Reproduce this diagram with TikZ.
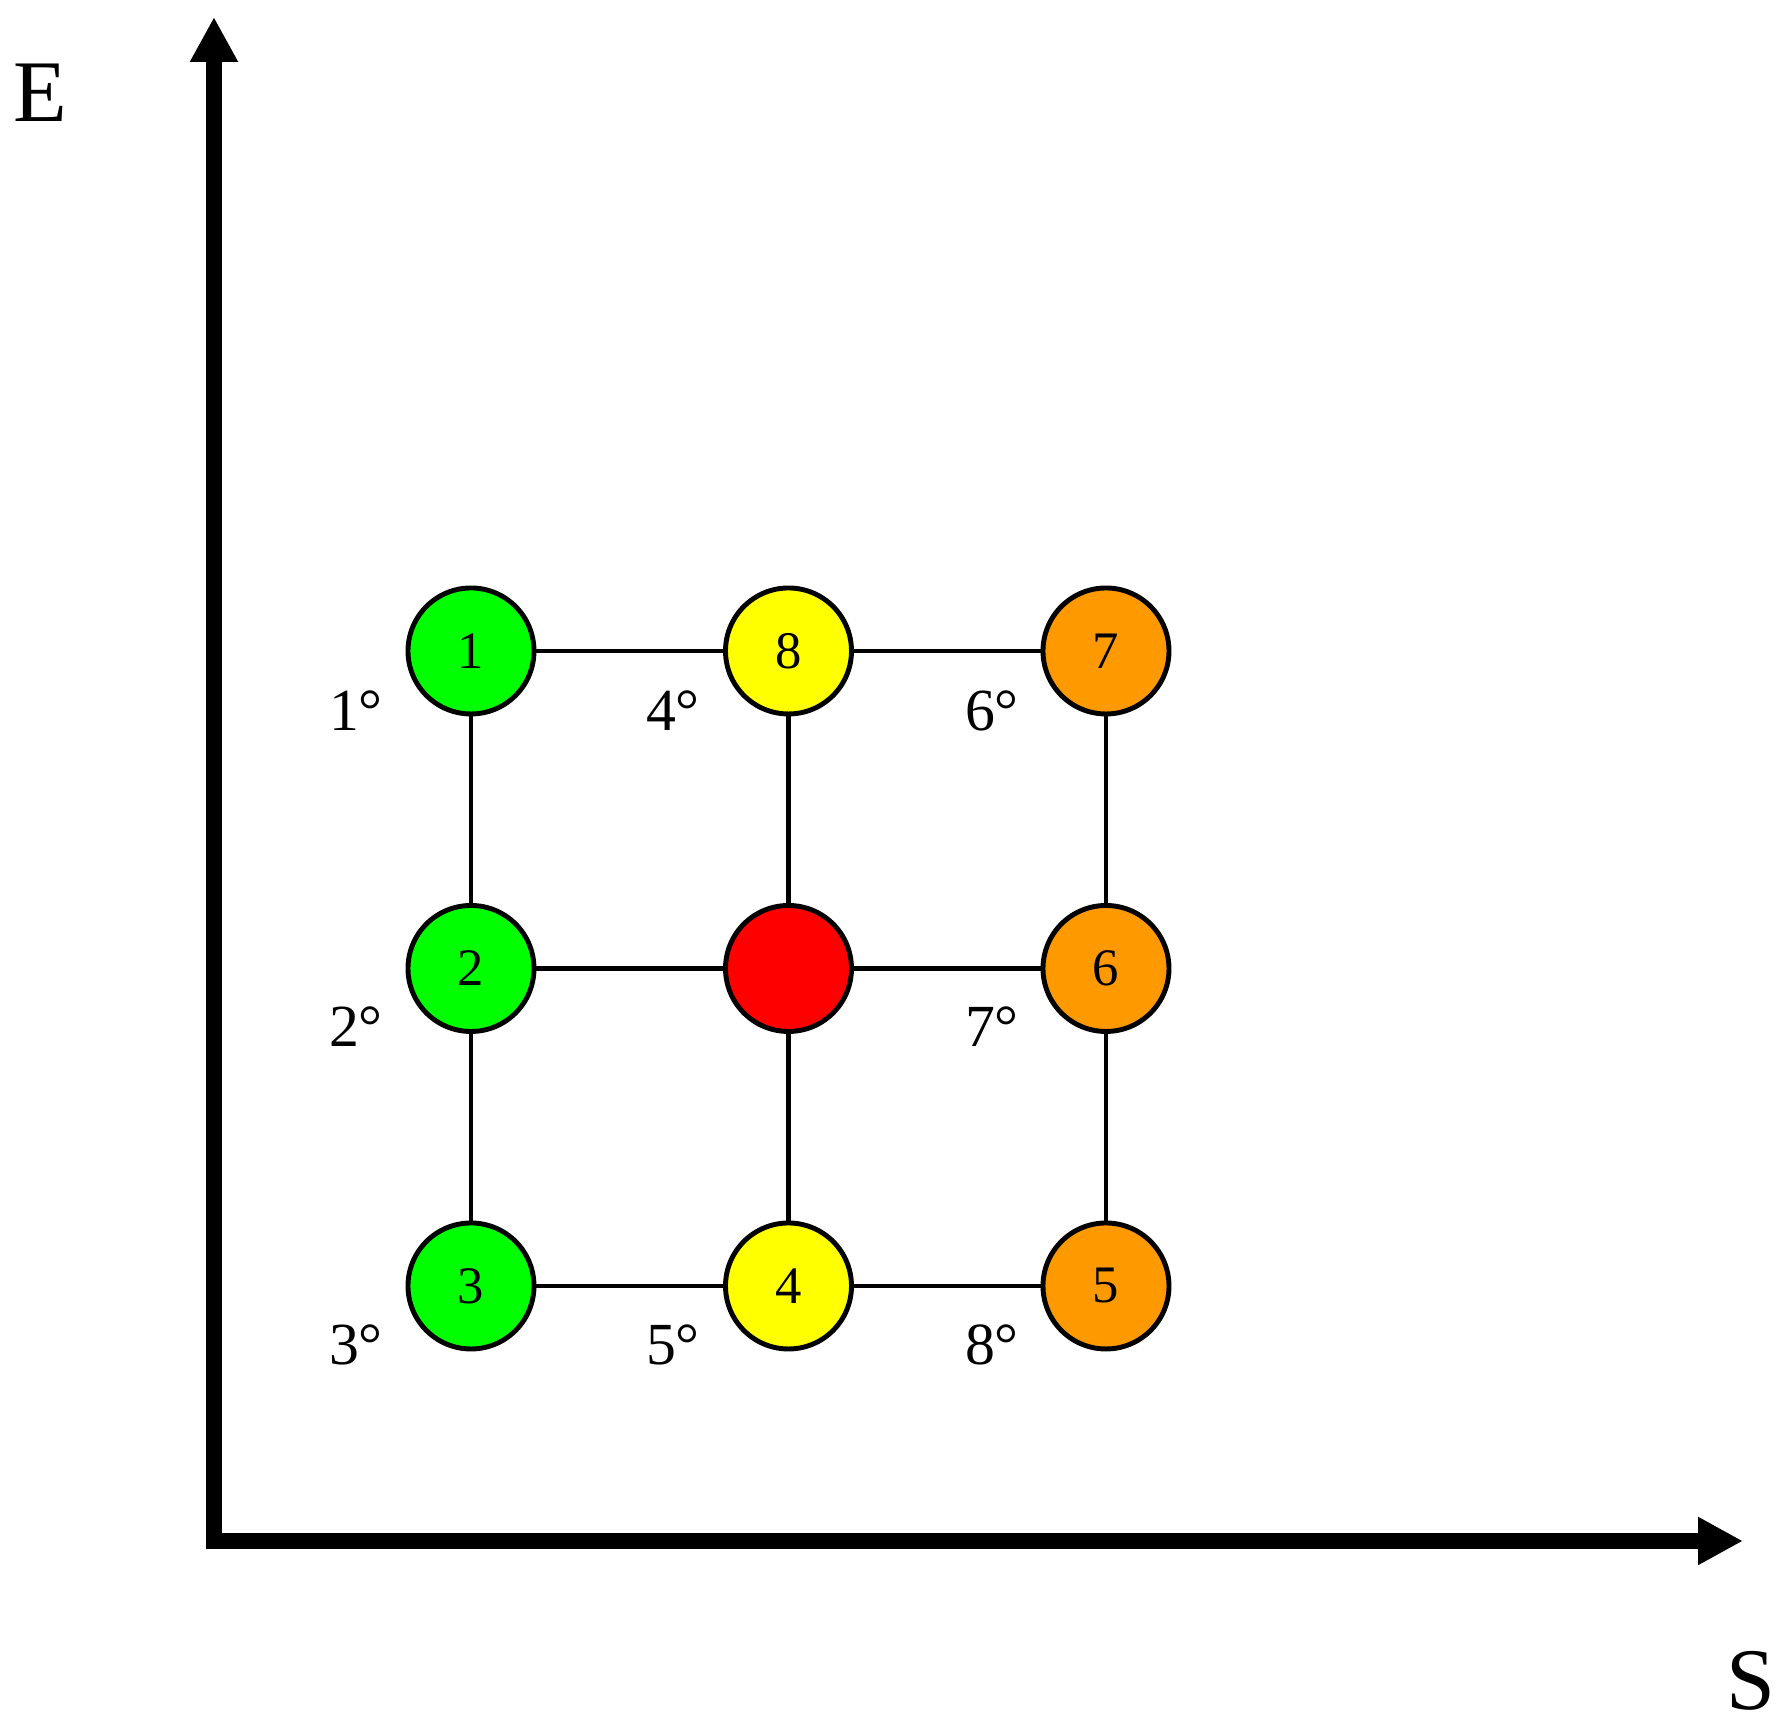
\documentclass[tikz,border=0pt]{standalone}
\usepackage{fontspec}
\setmainfont{Liberation Serif}
\usepackage{tikz}
\usetikzlibrary{arrows.meta,positioning}

\definecolor{stgreen}{RGB}{0,255,0}
\definecolor{styellow}{RGB}{255,255,0}
\definecolor{storange}{RGB}{255,153,0}
\definecolor{stred}{RGB}{255,0,0}

\tikzset{
    state/.style={circle,draw=black,line width=1.4pt,minimum size=1.26cm,inner sep=0pt,
        font=\fontsize{15}{18}\selectfont},
    axis/.style={line width=4.8pt,-{Triangle[length=0.45cm,width=0.45cm]}},
    link/.style={black,line width=1.2pt},
    rank/.style={font=\fontsize{17}{20}\selectfont}
}

\begin{document}
\begin{tikzpicture}
            \useasboundingbox (-2.14,-1.83) rectangle (15.69,15.41);
            \draw[axis] (0,-0.085) -- (0,15.24);
            \draw[axis] (0,0) -- (15.29,0);
            \node [font=\fontsize{25}{30}\selectfont] (E) at (-1.74,14.48) {E};
            \node [font=\fontsize{25}{30}\selectfont] (S) at (15.37,-1.40) {S};

            \node[state,fill=stgreen] (n1) at (2.57,8.9) {1};
            \node[state,fill=stgreen] (n2) at (2.57,5.725) {2};
            \node[state,fill=stgreen] (n3) at (2.57,2.55) {3};
            \node[state,fill=styellow] (n8) at (5.745,8.9) {8};
            \node[state,fill=stred] (nc) at (5.745,5.725) {};
            \node[state,fill=styellow] (n4) at (5.745,2.55) {4};
            \node[state,fill=storange] (n7) at (8.92,8.9) {7};
            \node[state,fill=storange] (n6) at (8.92,5.725) {6};
            \node[state,fill=storange] (n5) at (8.92,2.55) {5};

            \foreach \a/\b in {n1/n8,n8/n7,n2/nc,nc/n6,n3/n4,n4/n5,n1/n2,n2/n3,n8/nc,nc/n4,n7/n6,n6/n5}
                {
                \draw[link] (\a) -- (\b);
                }

            \foreach \x/\y/\r in {1.42/8.30/1,1.42/5.14/2,1.42/1.96/3,4.59/8.30/4,4.59/1.96/5,7.78/8.30/6,7.78/5.14/7,7.78/1.96/8}
                {
                \node[rank] (r\r) at (\x,\y) {\r°};
                }

        \end{tikzpicture}
\end{document}
